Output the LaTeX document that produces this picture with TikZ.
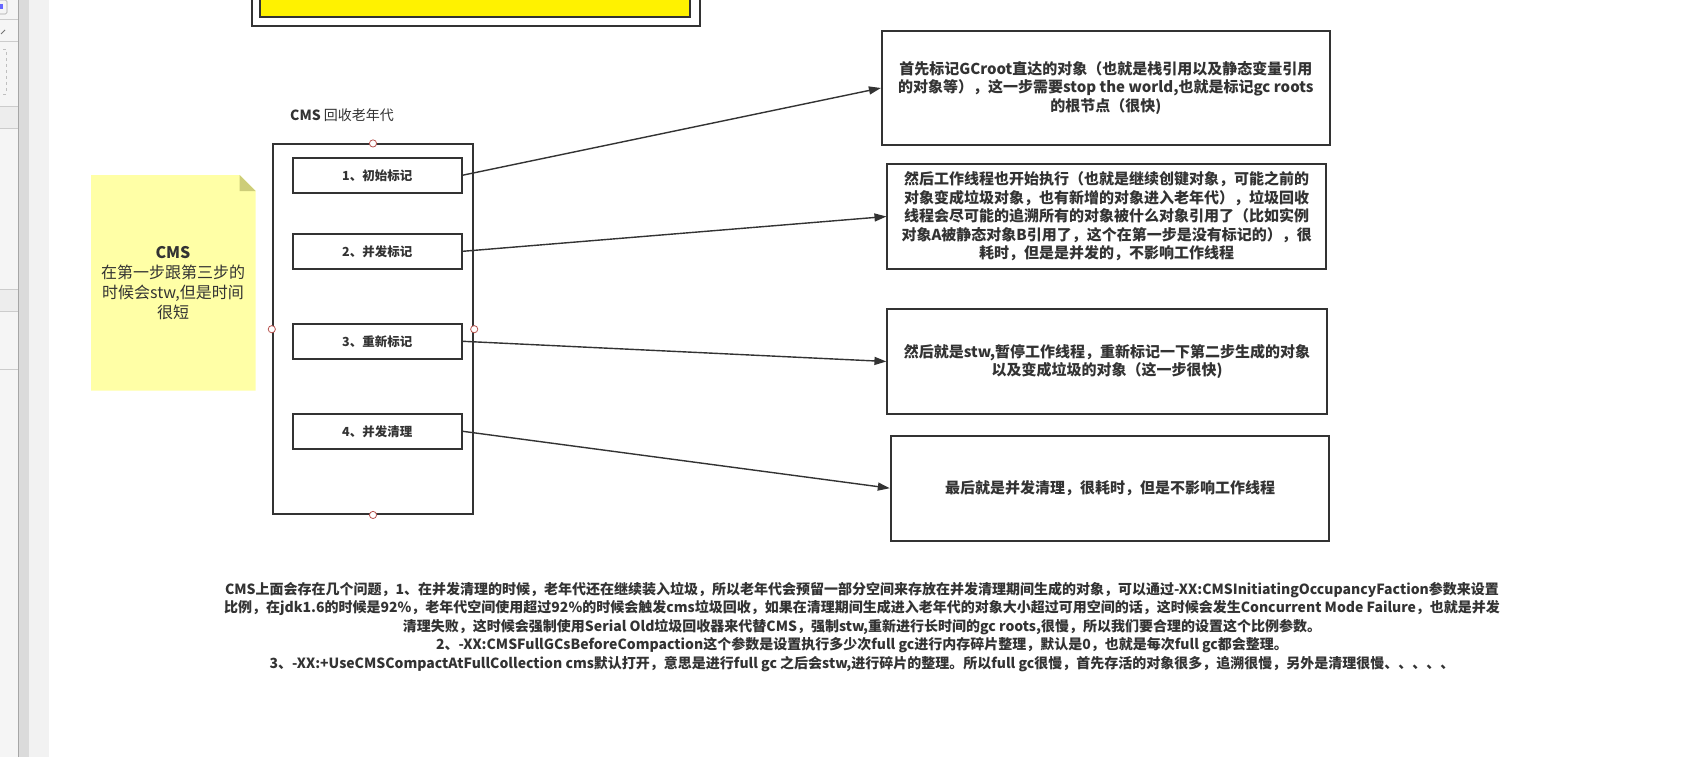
\documentclass[tikz,border=0pt]{standalone}
\usepackage{fontspec}
\setmainfont{Noto Sans CJK SC}
\usetikzlibrary{arrows.meta}
\definecolor{ink}{HTML}{333333}
\definecolor{stickyfill}{HTML}{FFFFA6}
\definecolor{stickyfold}{HTML}{CDCD78}
\definecolor{portred}{HTML}{B85450}
\begin{document}
\begin{tikzpicture}[x=1pt, y=-1pt, line width=1.8pt, draw=ink, text=ink,
    stage/.style={draw=ink, minimum width=169pt, minimum height=35pt, inner sep=0pt,
      font=\fontsize{12.5}{15}\selectfont\bfseries},
    explain/.style={draw=ink, inner sep=0pt, align=center,
      font=\fontsize{15}{18.5}\selectfont\bfseries},
    port/.style={draw=portred, fill=white, line width=0.8pt},
    arr/.style={-{Triangle[length=12pt,width=8pt]}, draw=ink, line width=1.4pt}]
    \clip (0,0) rectangle (1704,757);
    \fill[white] (0,0) rectangle (1704,757);
    % editor side panel
    \fill[black!4] (0,0) rectangle (18.3,757);
    \fill[black!7] (0,106) rectangle (18.3,128);
    \fill[black!7] (0,289) rectangle (18.3,311);
    \fill[black!14] (18.3,0) rectangle (29,757);
    \fill[black!5] (29,0) rectangle (49,757);
    \draw[black!35, line width=0.8pt] (18.3,0) -- (18.3,757);
    \foreach \yy in {19,41,106,128,289,311,369}
      \draw[black!20, line width=0.6pt] (0,\yy) -- (18.3,\yy);
    \draw[black!35, line width=0.6pt, rounded corners=1.5pt] (-3,0) rectangle (7,14);
    \fill[blue!60] (0,4) rectangle (2.5,9);
    \draw[black!25, line width=0.6pt, dashed] (-3,49) -- (6,49) -- (6,94) -- (-3,94);
    \draw[black!55, line width=1pt] (1,34) -- (5,30);
    % yellow block cut off at the top
    \draw[fill=white] (251.7,-20) rectangle (700,26);
    \draw[fill=yellow] (260,-20) rectangle (690,16.7);
    % sticky note
    \fill[stickyfill] (91,175) -- (239.7,175) -- (255.7,191) -- (255.7,390.7) -- (91,390.7) -- cycle;
    \fill[stickyfold] (239.7,175) -- (255.7,191) -- (239.7,191) -- cycle;
    \node[align=center, font=\fontsize{16}{20}\selectfont] (note) at (173,283)
      {\textbf{CMS}\\在第一步跟第三步的\\时候会stw,但是时间\\很短};
    % old generation
    \node[anchor=west, font=\fontsize{14}{16}\selectfont] (title) at (286,115) {\textbf{CMS} 回收老年代};
    \node[draw=ink, minimum width=200.6pt, minimum height=369.7pt, inner sep=0pt] (old) at (373,329.2) {};
    \node[stage] (s1) at (377.3,175.2) {1、初始标记};
    \node[stage] (s2) at (377.3,251.3) {2、并发标记};
    \node[stage] (s3) at (377.3,341.3) {3、重新标记};
    \node[stage] (s4) at (377.3,431.3) {4、并发清理};
    \foreach \pp in {north,south,west,east}
      \draw[port] (old.\pp) circle (3.6pt);
    % explanations
    \node[explain, minimum width=448pt, minimum height=114pt] (e1) at (1105.8,88)
      {首先标记GCroot直达的对象（也就是栈引用以及静态变量引用\\的对象等），这一步需要stop the world,也就是标记gc roots\\的根节点（很快)};
    \node[explain, minimum width=438.7pt, minimum height=105pt] (e2) at (1106.7,216.5)
      {然后工作线程也开始执行（也就是继续创键对象，可能之前的\\对象变成垃圾对象，也有新增的对象进入老年代），垃圾回收\\线程会尽可能的追溯所有的对象被什么对象引用了（比如实例\\对象A被静态对象B引用了，这个在第一步是没有标记的），很\\耗时，但是是并发的，不影响工作线程};
    \node[explain, minimum width=439.4pt, minimum height=105pt] (e3) at (1107,361.5)
      {然后就是stw,暂停工作线程，重新标记一下第二步生成的对象\\以及变成垃圾的对象（这一步很快)};
    \node[explain, minimum width=438.6pt, minimum height=105pt] (e4) at (1110,488.2)
      {最后就是并发清理，很耗时，但是不影响工作线程};
    \draw[arr] (s1.east) -- (e1.west);
    \draw[arr] (s2.east) -- (e2.west);
    \draw[arr] (s3.east) -- (e3.west);
    \draw[arr] (s4.east) -- (e4.west);
    % notes below
    \node[align=center, font=\fontsize{14}{18.5}\selectfont\bfseries] (issues) at (862,627)
      {CMS上面会存在几个问题，1、在并发清理的时候，老年代还在继续装入垃圾，所以老年代会预留一部分空间来存放在并发清理期间生成的对象，可以通过-XX:CMSInitiatingOccupancyFaction参数来设置\\
       比例，在jdk1.6的时候是92\%，老年代空间使用超过92\%的时候会触发cms垃圾回收，如果在清理期间生成进入老年代的对象大小超过可用空间的话，这时候会发生Concurrent Mode Failure，也就是并发\\
       清理失败，这时候会强制使用Serial Old垃圾回收器来代替CMS，强制stw,重新进行长时间的gc roots,很慢，所以我们要合理的设置这个比例参数。\\
       2、-XX:CMSFullGCsBeforeCompaction这个参数是设置执行多少次full gc进行内存碎片整理，默认是0，也就是每次full gc都会整理。\\
       3、-XX:+UseCMSCompactAtFullCollection cms默认打开，意思是进行full gc 之后会stw,进行碎片的整理。所以full gc很慢，首先存活的对象很多，追溯很慢，另外是清理很慢、、、、、};
\end{tikzpicture}
\end{document}
